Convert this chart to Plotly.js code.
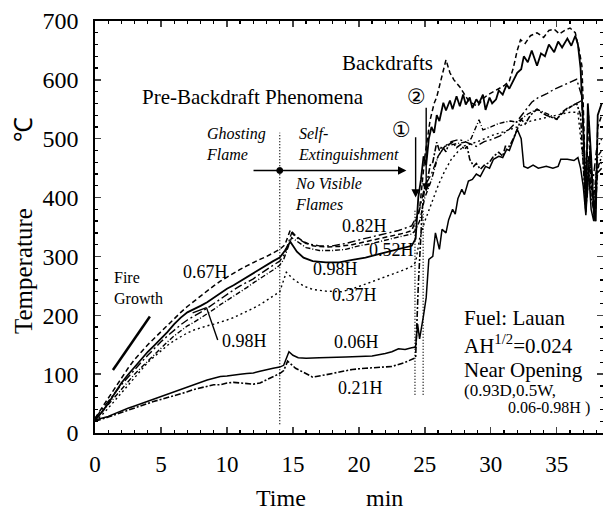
<!DOCTYPE html>
<html><head><meta charset="utf-8">
<script src="https://cdn.plot.ly/plotly-3.0.1.min.js"></script>
<style>html,body{margin:0;padding:0;background:#fff}#chart{width:603px;height:514px}</style>
</head><body><div id="chart"></div>
<script>
// [time (min), temperature (°C)] for each thermocouple height
const s006 = [[0,22],[0.5,25],[1,28],[1.5,33],[2,38],[2.5,42],[3,46],[3.5,50],[4,55],[4.5,59],[5,63],[5.5,66],[6,70],[6.5,74],[7,78],[7.5,83],[8,87],[8.5,90],[9,93],[9.5,96],[10,97],[10.5,99],[11,100],[11.5,101],[12,102],[12.5,105],[13,108],[13.5,110],[14,112],[14.3,115],[14.7,138],[15.0,132],[15.4,128],[16,127],[17,128],[18,128],[19,129],[20,130],[21,131],[22,135],[22.5,138],[23,143],[23.5,142],[24,145],[24.3,146],[24.45,185],[24.6,160],[24.9,200],[25.1,230],[25.3,295],[25.6,300],[25.8,340],[26.1,312],[26.3,346],[26.6,340],[26.8,362],[27.1,380],[27.3,372],[27.5,398],[27.8,414],[28,405],[28.3,428],[28.6,431],[28.9,440],[29.2,436],[29.6,453],[29.9,450],[30.2,465],[30.6,470],[30.9,468],[31.2,482],[31.4,480],[31.7,499],[32,516],[32.3,500],[32.5,453],[32.8,450],[33.2,455],[33.6,450],[34.2,453],[34.7,450],[35.1,453],[35.3,465],[35.8,465],[36.3,463],[36.6,468],[36.8,450],[37,420],[37.2,370],[37.4,450],[37.6,380],[37.8,360],[38,440],[38.4,450]];
const s021 = [[0,20],[0.5,23],[1,27],[1.5,31],[2,35],[2.5,39],[3,43],[3.5,47],[4,50],[4.5,54],[5,57],[5.5,60],[6,63],[6.5,66],[7,70],[7.5,74],[8,77],[8.5,80],[9,82],[9.5,82],[10,85],[10.5,86],[11,85],[11.5,84],[12,83],[12.5,85],[13,90],[13.5,96],[14,101],[14.3,106],[14.6,122],[15.2,110],[16,100],[16.5,95],[17.5,99],[18.5,104],[19.5,108],[20.5,110],[21.5,111],[22.5,113],[23.5,120],[24.1,126],[24.3,128],[24.5,250],[24.8,380],[25.0,420],[25.2,430],[25.4,455],[25.6,460],[25.9,494],[26.1,480],[26.3,487],[26.6,478],[26.8,490],[27.1,494],[27.4,485],[27.7,490],[28.0,482],[28.2,487],[28.4,465],[28.7,453],[28.9,458],[29.2,448],[29.5,455],[29.9,460],[30.2,470],[30.6,477],[30.9,470],[31.1,487],[31.4,487],[31.7,500],[32,516],[32.3,533],[32.6,525],[33,540],[33.5,550],[33.8,545],[34.2,540],[34.6,536],[35,533],[35.4,545],[35.8,552],[36.1,555],[36.5,560],[36.8,540],[37,450],[37.2,375],[37.4,470],[37.6,400],[37.9,370],[38.1,450],[38.4,470]];
const s037 = [[0,20],[0.5,30],[1,42],[1.5,55],[2,68],[2.5,82],[3,95],[3.5,108],[4,120],[4.5,130],[5,140],[5.5,149],[6,157],[6.5,164],[7,170],[7.5,175],[8,179],[8.5,182],[9,185],[9.5,188],[10,192],[10.5,196],[11,201],[11.5,206],[12,212],[12.5,218],[13,225],[13.5,232],[14,240],[14.5,273],[15,262],[15.5,254],[16,248],[16.5,244],[17.5,241],[18.7,240],[19.5,245],[20.5,253],[21.5,261],[22.5,270],[23.5,278],[24,283],[24.3,290],[24.6,330],[25,360],[25.5,390],[26,420],[26.5,445],[27,465],[27.5,478],[28,488],[29,495],[30,505],[31,512],[32,520],[33,530],[34,535],[35,540],[36,545],[36.6,545],[37,460],[37.2,380],[37.5,470],[37.8,380],[38.1,450],[38.4,460]];
const s052 = [[0,22],[0.5,35],[1,48],[1.5,62],[2,75],[2.5,88],[3,100],[3.5,111],[4,122],[4.5,134],[5,145],[5.5,155],[6,165],[6.5,174],[7,182],[7.5,188],[8,195],[8.5,202],[9,210],[9.5,218],[10,225],[10.5,232],[11,240],[11.5,247],[12,255],[12.5,262],[13,270],[13.5,277],[14,285],[14.3,295],[14.9,332],[15.5,322],[16,315],[17,310],[18,310],[19,312],[20,318],[21,322],[22,328],[23,333],[24,338],[24.3,345],[24.6,360],[25,400],[25.5,430],[26,470],[26.5,487],[27,490],[27.5,492],[28,494],[28.5,500],[29.1,532],[29.4,515],[30,520],[30.5,525],[31,528],[31.5,530],[32,528],[32.3,533],[32.8,542],[33.5,550],[34,545],[34.5,540],[35,533],[35.5,545],[36.1,555],[36.5,560],[36.9,565],[37.1,470],[37.3,400],[37.5,480],[37.8,400],[38.1,470],[38.4,480]];
const s067 = [[0,25],[0.5,42],[1,60],[1.5,78],[2,95],[2.5,110],[3,125],[3.5,138],[4,150],[4.5,161],[5,172],[5.5,184],[6,195],[6.5,205],[7,215],[7.5,224],[8,232],[8.5,241],[9,250],[9.5,258],[10,265],[10.5,272],[11,278],[11.5,284],[12,290],[12.5,295],[13,300],[13.5,306],[14,312],[14.4,320],[14.8,345],[15.2,335],[15.8,325],[16.5,318],[17.5,316],[18.5,317],[19.5,320],[20.5,325],[21.5,330],[22.5,335],[23.5,340],[24,344],[24.3,360],[24.6,380],[25,470],[25.4,532],[25.7,560],[25.9,571],[26.2,600],[26.4,615],[26.6,634],[26.9,612],[27.2,600],[27.65,588],[28,575],[28.3,565],[28.6,560],[29,555],[29.4,568],[29.8,575],[30.2,580],[30.6,585],[31,590],[31.4,598],[31.7,620],[32,650],[32.25,668],[32.6,662],[33,675],[33.5,680],[34,672],[34.4,684],[34.8,686],[35.2,678],[35.6,684],[36,688],[36.4,680],[36.7,650],[36.9,624],[37,560],[37.2,400],[37.4,540],[37.6,420],[37.9,360],[38.1,520],[38.4,540]];
const s082 = [[0,25],[0.5,40],[1,55],[1.5,68],[2,82],[2.5,95],[3,108],[3.5,120],[4,132],[4.5,144],[5,155],[5.5,165],[6,175],[6.5,184],[7,192],[7.5,198],[8,205],[8.5,212],[9,220],[9.5,228],[10,235],[10.5,243],[11,250],[11.5,256],[12,262],[12.5,270],[13,278],[13.5,285],[14,292],[14.4,305],[14.9,340],[15.4,330],[16,322],[17,318],[18,318],[19,322],[20,328],[21,333],[22,338],[23,344],[24,352],[24.3,365],[24.5,370],[25,420],[25.5,440],[26,470],[26.5,487],[27,495],[27.6,499],[28.3,492],[28.9,487],[29.5,495],[30.1,499],[30.7,505],[31.4,516],[32,530],[32.6,548],[33.1,562],[33.6,570],[34.2,576],[34.8,584],[35.4,590],[36,596],[36.5,601],[36.9,572],[37.1,470],[37.3,400],[37.5,480],[37.7,420],[38,480],[38.4,500]];
const s098 = [[0,22],[0.5,35],[1,50],[1.5,68],[2,85],[2.5,99],[3,112],[3.5,125],[4,138],[4.5,149],[5,160],[5.5,172],[6,185],[6.5,196],[7,205],[7.5,210],[8,216],[8.5,222],[9,230],[9.5,238],[10,245],[10.5,251],[11,258],[11.5,265],[12,272],[12.5,279],[13,285],[13.5,292],[14,298],[14.4,310],[14.8,325],[15.3,308],[15.8,298],[16.5,292],[17.5,290],[18.5,290],[19.5,294],[20.5,298],[21.5,304],[22.5,310],[23.5,315],[24,318],[24.3,330],[24.5,400],[24.7,430],[24.9,470],[25.1,455],[25.3,500],[25.5,520],[25.7,510],[25.9,540],[26.1,530],[26.4,561],[26.6,548],[26.9,565],[27.1,550],[27.4,572],[27.65,555],[27.9,575],[28.1,558],[28.4,570],[28.6,552],[28.9,567],[29.1,560],[29.4,575],[29.6,549],[29.9,570],[30.1,560],[30.4,567],[30.6,582],[30.9,575],[31.2,592],[31.4,585],[31.7,600],[32,612],[32.3,618],[32.5,640],[32.8,630],[33.1,650],[33.5,624],[33.8,645],[34.1,640],[34.4,660],[34.8,647],[35.1,665],[35.4,655],[35.8,670],[36.1,658],[36.4,675],[36.6,660],[36.8,620],[37,520],[37.2,380],[37.35,560],[37.6,470],[37.8,375],[37.95,360],[38.1,540],[38.4,560]];

const xTicks = [0,5,10,15,20,25,30,35];
const yTicks = [0,100,200,300,400,500,600,700];

const serif = 'Liberation Serif, Times New Roman, serif';
function tr(name, d, dash, w){
  return {type:'scatter', mode:'lines', name:name, x:d.map(p=>p[0]), y:d.map(p=>p[1]),
    line:{color:'#000', width:w, dash:dash}, hoverinfo:'skip'};
}
const data = [
  tr('0.06H', s006, 'solid', 1.5),
  tr('0.21H', s021, '6px,2px,2px,2px', 1.6),
  tr('0.37H', s037, '2px,3px', 1.4),
  tr('0.52H', s052, '5px,2px,1px,2px', 1.4),
  tr('0.67H', s067, '5px,3px', 1.5),
  tr('0.82H', s082, '8px,3px,2px,3px', 1.4),
  tr('0.98H', s098, 'solid', 1.8)
];

function lab(text, x, y, size, opts){
  return Object.assign({text:text, x:x, y:y, xref:'x', yref:'y', showarrow:false,
    font:{family:serif, size:size, color:'#000'}}, opts||{});
}
function arrow(x, y, ax, ay){
  return {x:x, y:y, ax:ax, ay:ay, xref:'x', yref:'y', axref:'x', ayref:'y', text:'',
    showarrow:true, arrowhead:2, arrowsize:1.2, arrowwidth:1.4, arrowcolor:'#000'};
}
function ptext(text, x, y, size, angle){
  return {text:text, xref:'paper', yref:'paper', x:x, y:y, xanchor:'center', yanchor:'middle',
    textangle:angle||0, showarrow:false, font:{family:serif, size:size, color:'#000'}};
}
const annotations = [
  lab('Pre-Backdraft Phenomena', 12.0, 571, 21),
  lab('Backdrafts', 22.2, 629, 21),
  lab('<i>Ghosting<br>Flame</i>', 8.26, 491, 16, {xanchor:'left', align:'left'}),
  lab('<i>Self-<br>Extinguishment</i>', 15.2, 491, 16, {xanchor:'left', align:'left'}),
  lab('<i>No Visible<br>Flames</i>', 15.0, 406, 16, {xanchor:'left', align:'left'}),
  lab('Fire<br>Growth', 1.29, 246, 16, {xanchor:'left', align:'left'}),
  lab('0.67H', 8.4, 274, 18),
  lab('0.98H', 11.3, 156, 18),
  lab('0.82H', 20.45, 352, 18),
  lab('0.52H', 22.5, 311, 18),
  lab('0.98H', 18.2, 279, 18),
  lab('0.37H', 19.7, 234, 18),
  lab('0.06H', 19.85, 155, 18),
  lab('0.21H', 20.15, 76, 18),
  lab('Fuel: Lauan', 27.8, 196, 21, {xanchor:'left'}),
  lab('AH<sup>1/2</sup>=0.024', 27.8, 150, 21, {xanchor:'left'}),
  lab('Near Opening', 27.8, 107, 21, {xanchor:'left'}),
  lab('(0.93D,0.5W,', 27.8, 73, 17, {xanchor:'left'}),
  lab('0.06-0.98H )', 37.65, 42, 16, {xanchor:'right'}),
  {text:'①', x:23.25, y:515, xref:'x', yref:'y', showarrow:false, font:{family:'DejaVu Sans', size:21, color:'#000'}},
  {text:'②', x:24.37, y:571, xref:'x', yref:'y', showarrow:false, font:{family:'DejaVu Sans', size:21, color:'#000'}},
  arrow(23.6, 446, 11.9, 446),
  arrow(24.3, 400, 24.3, 505),
  arrow(25.1, 410, 25.1, 555),
  ptext('Temperature', -0.1417, 0.393, 25, -90),
  ptext('℃', -0.1417, 0.735, 25, -90),
  ptext('Time', 0.366, -0.158, 24),
  ptext('min', 0.569, -0.158, 24)
];
const shapes = [
  {type:'line', x0:14.0, x1:14.0, y0:15, y1:510, line:{color:'#000', width:1.3, dash:'1px,2px'}},
  {type:'line', x0:24.25, x1:24.25, y0:65, y1:380, line:{color:'#000', width:1.3, dash:'1px,2px'}},
  {type:'line', x0:24.87, x1:24.87, y0:65, y1:380, line:{color:'#000', width:1.3, dash:'1px,2px'}},
  {type:'circle', xref:'x', yref:'y', xsizemode:'pixel', ysizemode:'pixel', xanchor:14.0, yanchor:446, x0:-3, x1:3, y0:-3, y1:3, fillcolor:'#000', line:{color:'#000', width:1}},
  {type:'line', x0:1.36, y0:107, x1:4.16, y1:198, line:{color:'#000', width:2.5}},
  {type:'line', x0:9.3, y0:158, x1:8.45, y1:213, line:{color:'#000', width:1.4}},
  {type:'line', x0:8.45, y0:213, x1:7.4, y1:204, line:{color:'#000', width:1.4}}
];
const layout = {
  width:603, height:514, margin:{l:95, r:0, t:21, b:81},
  paper_bgcolor:'#fff', plot_bgcolor:'#fff', showlegend:false,
  font:{family:serif, color:'#000'},
  xaxis:{range:[0,38.5], tickvals:xTicks, ticktext:xTicks.map(String), ticks:'inside', ticklen:6, tickwidth:1.3,
    showline:true, linewidth:1.6, linecolor:'#000', mirror:'ticks', showgrid:false, zeroline:false,
    tickfont:{family:serif, size:23, color:'#000'}, ticklabelstandoff:10,
    minor:{dtick:1, ticks:'inside', ticklen:3, tickcolor:'#000', showgrid:false}},
  yaxis:{range:[0,700], tickvals:yTicks, ticktext:yTicks.map(String), ticks:'inside', ticklen:6, tickwidth:1.3,
    showline:true, linewidth:1.6, linecolor:'#000', mirror:'ticks', showgrid:false, zeroline:false,
    tickfont:{family:serif, size:24, color:'#000'}, ticklabelstandoff:10,
    minor:{dtick:20, ticks:'inside', ticklen:3, tickcolor:'#000', showgrid:false}},
  annotations:annotations, shapes:shapes
};
Plotly.newPlot('chart', data, layout, {staticPlot:true, displayModeBar:false});
</script></body></html>
